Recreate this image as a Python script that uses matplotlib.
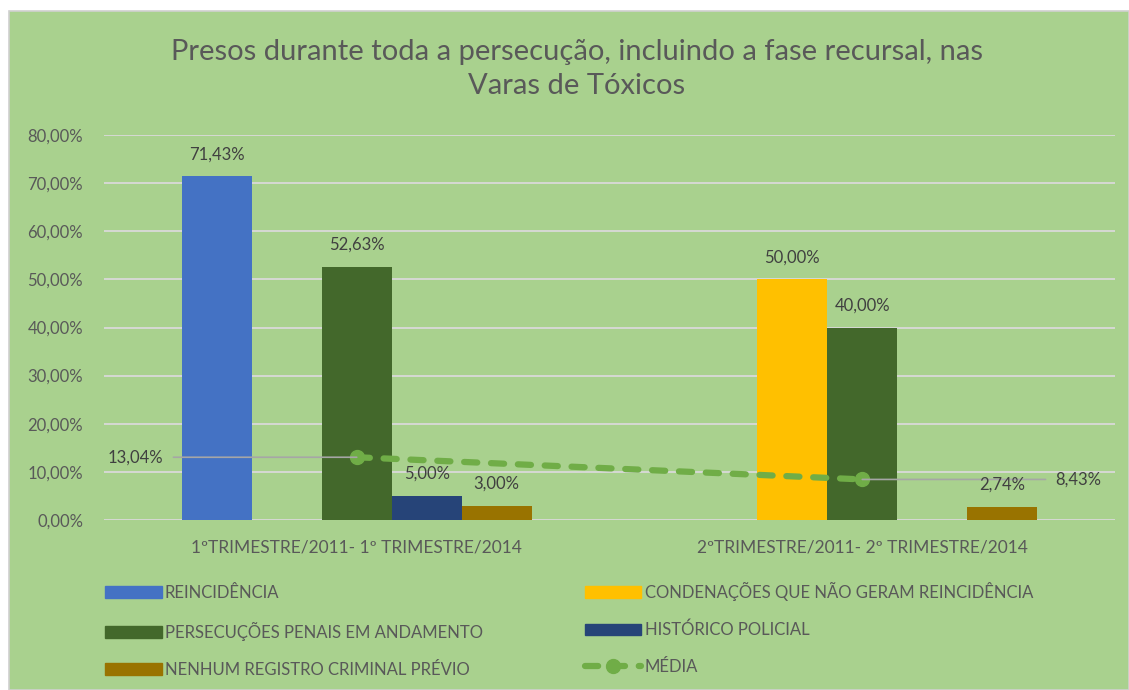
import numpy as np
import matplotlib
matplotlib.use('Agg')
import matplotlib.pyplot as plt
from matplotlib.patches import Rectangle, Patch
from matplotlib.lines import Line2D

# dados
categorias = ['1ºTRIMESTRE/2011- 1º TRIMESTRE/2014', '2ºTRIMESTRE/2011- 2º TRIMESTRE/2014']
series = ['REINCIDÊNCIA', 'CONDENAÇÕES QUE NÃO GERAM REINCIDÊNCIA',
          'PERSECUÇÕES PENAIS EM ANDAMENTO', 'HISTÓRICO POLICIAL',
          'NENHUM REGISTRO CRIMINAL PRÉVIO']
reincidencia = [71.43, np.nan]
condenacoes = [np.nan, 50.00]
persecucoes = [52.63, 40.00]
historico = [5.00, np.nan]
nenhum = [3.00, 2.74]
media = [13.04, 8.43]
yticks = [0, 10, 20, 30, 40, 50, 60, 70, 80]

cores = ['#4472C4', '#FFC000', '#43682B', '#264478', '#997300']
cor_media = '#70AD47'
cinza = '#595959'

plt.rcParams['font.family'] = ['Lato', 'DejaVu Sans']

W, H = 1129, 690
fig = plt.figure(figsize=(W / 100, H / 100), dpi=100, facecolor='white')

# fundo verde do gráfico
fig.patches.append(Rectangle((9 / W, 0), 1 - 9 / W, (H - 11) / H, transform=fig.transFigure,
                             facecolor='#A9D18E', edgecolor='#D0D0D0', lw=1.2, zorder=-5))

ax = fig.add_axes([104 / W, (H - 520) / H, (1115 - 104) / W, (520 - 135) / H])
ax.set_facecolor('none')
ax.set_zorder(1)

x = np.arange(len(categorias))
largura = 0.1385
valores = [reincidencia, condenacoes, persecucoes, historico, nenhum]
for i, (vals, cor) in enumerate(zip(valores, cores)):
    pos = x + (i - 2) * largura
    barras = ax.bar(pos, vals, largura, color=cor, zorder=2)
    for b, v in zip(barras, vals):
        if not np.isnan(v):
            ax.annotate(f'{v:.2f}%'.replace('.', ','), (b.get_x() + b.get_width() / 2, v),
                        xytext=(0, 10), textcoords='offset points', ha='center', va='bottom',
                        fontsize=12, color='#404040', zorder=4)

# média
ax.plot(x, media, color=cor_media, lw=4.5, linestyle=(0, (2.1, 2.2)),
        dash_capstyle='round', marker='o', markersize=10, zorder=3)
ax.annotate(f'{media[0]:.2f}%'.replace('.', ','), (x[0], media[0]), xytext=(-139, 0),
            textcoords='offset points', ha='right', va='center', fontsize=12, color='#404040',
            arrowprops=dict(arrowstyle='-', color='#A6A6A6', lw=1.2, shrinkA=5, shrinkB=0))
ax.annotate(f'{media[1]:.2f}%'.replace('.', ','), (x[1], media[1]), xytext=(139, 0),
            textcoords='offset points', ha='left', va='center', fontsize=12, color='#404040',
            arrowprops=dict(arrowstyle='-', color='#A6A6A6', lw=1.2, shrinkA=5, shrinkB=0))

ax.set_xlim(-0.5, 1.5)
ax.set_ylim(0, 80)
ax.set_yticks(yticks)
ax.set_yticklabels([f'{t:.2f}%'.replace('.', ',') for t in yticks])
ax.set_xticks(x)
ax.set_xticklabels(categorias)
ax.tick_params(axis='y', length=0, pad=15, labelsize=12, labelcolor=cinza)
ax.tick_params(axis='x', length=0, pad=14, labelsize=12.5, labelcolor=cinza)
ax.grid(axis='y', color='#D9D9D9', lw=1.3, zorder=1)
ax.set_axisbelow(True)
for s in ax.spines.values():
    s.set_visible(False)

fig.text(577 / W, 1 - 69 / H, 'Presos durante toda a persecução, incluindo a fase recursal, nas\nVaras de Tóxicos',
         ha='center', va='center', fontsize=21, color=cinza, linespacing=1.35)

# legenda em duas colunas (ordem por coluna)
h = [Patch(color=c) for c in cores]
h_media = Line2D([], [], color=cor_media, lw=4.5, linestyle=(0, (2.1, 2.2)),
                 dash_capstyle='round', marker='o', markersize=10)
handles = [h[0], h[2], h[4], h[1], h[3], h_media]
labels = [series[0], series[2], series[4], series[1], series[3], 'MÉDIA']
fig.legend(handles, labels, ncol=2, frameon=False, fontsize=12, labelcolor=cinza,
           handlelength=3.4, handletextpad=0.2, labelspacing=1.25, columnspacing=6.1,
           borderpad=0, borderaxespad=0, loc='upper left', bbox_transform=fig.transFigure,
           bbox_to_anchor=(105 / W, 1 - 582 / H))

fig.savefig('out.png', dpi=100, facecolor='white')
